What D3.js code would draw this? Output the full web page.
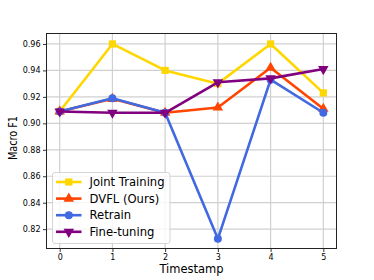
<!DOCTYPE html>
<html><head><meta charset="utf-8">
<script src="https://cdn.jsdelivr.net/npm/d3@7"></script>
<style>body{margin:0;background:#fff}svg{display:block;font-family:"DejaVu Sans",sans-serif}</style>
</head><body><svg id="c" width="374" height="280"></svg>
<script>
const timestamps = [0, 1, 2, 3, 4, 5];
const jointTraining = [0.909, 0.960, 0.940, 0.930, 0.960, 0.923];
const dvfl = [0.909, 0.9185, 0.908, 0.912, 0.942, 0.911];
const retrain = [0.909, 0.919, 0.908, 0.8127, 0.933, 0.908];
const fineTuning = [0.909, 0.908, 0.908, 0.931, 0.934, 0.941];
const yTicks = [0.82, 0.84, 0.86, 0.88, 0.90, 0.92, 0.94, 0.96];
const xTicks = [0, 1, 2, 3, 4, 5];
const seriesNames = ["Joint Training", "DVFL (Ours)", "Retrain", "Fine-tuning"];
const seriesColors = ["#FFD700", "#FF4500", "#4169E1", "#800080"];
const seriesMarkers = ["square", "triangle", "circle", "triangleDown"];
const seriesValues = [jointTraining, dvfl, retrain, fineTuning];

const svg = d3.select("#c");
const L = 46.5, R = 336.5, T = 33.5, B = 248.5;
const x = d3.scaleLinear().domain([-0.25, 5.25]).range([L, R]);
const y = d3.scaleLinear().domain([0.8054, 0.9679]).range([B, T]);

// grid
const g = svg.append("g");
g.selectAll("line.v").data(xTicks).enter().append("line")
  .attr("x1", d => x(d)).attr("x2", d => x(d)).attr("y1", T).attr("y2", B)
  .attr("stroke", "#d0d0d0").attr("stroke-width", 1.2);
g.selectAll("line.h").data(yTicks).enter().append("line")
  .attr("y1", d => y(d)).attr("y2", d => y(d)).attr("x1", L).attr("x2", R)
  .attr("stroke", "#d0d0d0").attr("stroke-width", 1.2);

// axes
const xAxis = svg.append("g").attr("transform", `translate(0,${B})`)
  .call(d3.axisBottom(x).tickValues(xTicks).tickFormat(d3.format("d")).tickSize(3.5).tickPadding(2.5));
const yAxis = svg.append("g").attr("transform", `translate(${L},0)`)
  .call(d3.axisLeft(y).tickValues(yTicks).tickFormat(d3.format(".2f")).tickSize(3.5).tickPadding(2.5));
[xAxis, yAxis].forEach(a => {
  a.select(".domain").remove();
  a.selectAll("text").attr("font-size", 8).attr("fill", "#000").attr("font-family", "DejaVu Sans");
  a.selectAll("line").attr("stroke", "#000").attr("stroke-width", 0.8);
});

// lines and markers
const line = d3.line().x((d, i) => x(timestamps[i])).y(d => y(d));
const sym = {
  square: d3.symbol().type(d3.symbolSquare).size(52),
  circle: d3.symbol().type(d3.symbolCircle).size(50),
  triangle: d3.symbol().type(d3.symbolTriangle).size(48),
  triangleDown: d3.symbol().type(d3.symbolTriangle).size(48)
};
function drawMarker(sel, kind, cx, cy, color) {
  const p = sel.append("path").attr("d", sym[kind]()).attr("fill", color);
  if (kind === "triangleDown") p.attr("transform", `translate(${cx},${cy}) rotate(180)`);
  else p.attr("transform", `translate(${cx},${cy})`);
}
seriesValues.forEach((vals, k) => {
  const sg = svg.append("g");
  sg.append("path").datum(vals).attr("d", line).attr("fill", "none")
    .attr("stroke", seriesColors[k]).attr("stroke-width", 2.6).attr("stroke-linejoin", "round");
  vals.forEach((v, i) => drawMarker(sg, seriesMarkers[k], x(timestamps[i]), y(v), seriesColors[k]));
});

// frame
svg.append("rect").attr("x", L).attr("y", T).attr("width", R - L).attr("height", B - T)
  .attr("fill", "none").attr("stroke", "#222").attr("stroke-width", 1);

// labels
svg.append("text").attr("x", (L + R) / 2).attr("y", 273).attr("text-anchor", "middle")
  .attr("font-size", 11.5).text("Timestamp");
svg.append("text").attr("transform", `translate(17,${(T + B) / 2 - 3}) rotate(-90)`)
  .attr("text-anchor", "middle").attr("font-size", 11.5)
  .attr("textLength", 44).attr("lengthAdjust", "spacingAndGlyphs").text("Macro F1");

// legend
const lg = svg.append("g");
lg.append("rect").attr("x", 52.5).attr("y", 172.5).attr("width", 117.5).attr("height", 71)
  .attr("rx", 2.5).attr("fill", "rgba(255,255,255,0.8)").attr("stroke", "#d5d5d5").attr("stroke-width", 1);
seriesNames.forEach((name, k) => {
  const yy = 182 + k * 16.6;
  lg.append("line").attr("x1", 56).attr("x2", 81.5).attr("y1", yy).attr("y2", yy)
    .attr("stroke", seriesColors[k]).attr("stroke-width", 2.6);
  drawMarker(lg, seriesMarkers[k], 68.8, yy, seriesColors[k]);
  lg.append("text").attr("x", 89.5).attr("y", yy).attr("dy", "0.36em")
    .attr("font-size", 11.6).text(name);
});
</script></body></html>
